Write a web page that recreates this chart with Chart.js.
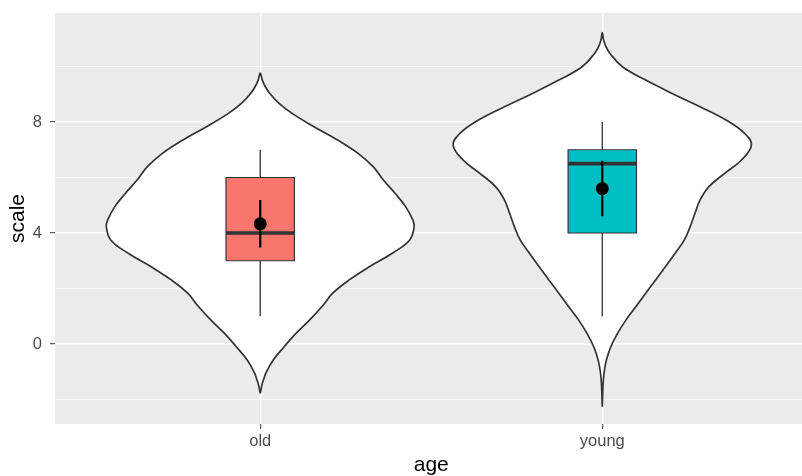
<!DOCTYPE html>
<html><head><meta charset="utf-8">
<script src="https://cdn.jsdelivr.net/npm/chart.js@4/dist/chart.umd.min.js"></script>
<style>
html,body{margin:0;padding:0;background:#fff;overflow:hidden;}
#wrap{position:relative;width:814px;height:476px;}
</style></head><body>
<div id="wrap"><canvas id="c"></canvas></div>
<script>
// ---- data ----
const categories = ['old', 'young'];
const q1 = [3, 4];
const medians = [4, 6.5];
const q3 = [6, 7];
const whiskerLow = [1, 1];
const whiskerHigh = [7, 8];
const means = [4.33, 5.6];
const meanLow = [3.48, 4.6];
const meanHigh = [5.19, 6.6];
const boxColors = ['#F8766D', '#00BFC4'];

// violin outlines: value (y) and half-width (in category units), top to bottom
const violinOldY = [9.76, 9.51, 9.27, 9.03, 8.67, 8.31, 7.83, 7.35, 6.87, 6.39, 5.91, 5.43, 4.95, 4.47, 4.23, 3.75, 3.27, 2.79, 2.31, 1.83, 1.34, 0.86, 0.39, -0.10, -0.58, -1.06, -1.24, -1.42, -1.78];
const violinOldHalf = [0, 0.006, 0.015, 0.028, 0.055, 0.093, 0.157, 0.226, 0.286, 0.33, 0.36, 0.394, 0.425, 0.446, 0.45, 0.437, 0.386, 0.32, 0.26, 0.212, 0.18, 0.144, 0.105, 0.07, 0.038, 0.016, 0.011, 0.006, 0];
const violinYoungY = [11.22, 10.95, 10.71, 10.48, 9.99, 9.51, 9.03, 8.55, 8.07, 7.59, 7.17, 6.63, 6.15, 5.67, 5.19, 4.71, 4.23, 3.75, 3.27, 2.79, 2.31, 1.83, 1.34, 0.86, 0.39, -0.10, -0.58, -1.06, -1.54, -2.26];
const violinYoungHalf = [0, 0.004, 0.011, 0.022, 0.059, 0.127, 0.204, 0.286, 0.362, 0.416, 0.436, 0.407, 0.358, 0.312, 0.286, 0.271, 0.257, 0.24, 0.213, 0.185, 0.156, 0.127, 0.098, 0.069, 0.045, 0.025, 0.012, 0.005, 0.002, 0];

const yTickValues = [-2, 0, 2, 4, 6, 8, 10];
const yTickLabels = ['', '0', '', '4', '', '8', ''];
const yMajor = [0, 4, 8];

// ---- build datasets ----
function violinPoints(center, ys, halves) {
  const pts = [];
  for (let i = ys.length - 1; i >= 0; i--) pts.push({x: center - halves[i], y: ys[i]});
  for (let i = 1; i < ys.length; i++) pts.push({x: center + halves[i], y: ys[i]});
  return pts;
}
const BOX_HALF = 0.1;
const ds = [];
const violins = [[violinOldY, violinOldHalf], [violinYoungY, violinYoungHalf]];
violins.forEach((v, i) => {
  ds.push({data: violinPoints(i + 1, v[0], v[1]), showLine: true, fill: 'shape',
    backgroundColor: '#ffffff', borderColor: '#333333', borderWidth: 1.7, tension: 0.4, pointRadius: 0});
});
categories.forEach((c, i) => {
  const x = i + 1;
  ds.push({data: [{x, y: q3[i]}, {x, y: whiskerHigh[i]}], showLine: true, borderColor: '#333333', borderWidth: 1.3, pointRadius: 0, fill: false});
  ds.push({data: [{x, y: q1[i]}, {x, y: whiskerLow[i]}], showLine: true, borderColor: '#333333', borderWidth: 1.3, pointRadius: 0, fill: false});
});
categories.forEach((c, i) => {
  const x = i + 1;
  ds.push({data: [{x: x - BOX_HALF, y: q1[i]}, {x: x - BOX_HALF, y: q3[i]}, {x: x + BOX_HALF, y: q3[i]}, {x: x + BOX_HALF, y: q1[i]}, {x: x - BOX_HALF, y: q1[i]}],
    showLine: true, fill: 'shape', backgroundColor: boxColors[i], borderColor: '#333333', borderWidth: 1.2, tension: 0, pointRadius: 0, borderJoinStyle: 'miter'});
});
categories.forEach((c, i) => {
  const x = i + 1;
  ds.push({data: [{x: x - BOX_HALF, y: medians[i]}, {x: x + BOX_HALF, y: medians[i]}], showLine: true, borderColor: '#333333', borderWidth: 3.6, pointRadius: 0, fill: false});
});
categories.forEach((c, i) => {
  const x = i + 1;
  ds.push({data: [{x, y: meanLow[i]}, {x, y: meanHigh[i]}], showLine: true, borderColor: '#000000', borderWidth: 2.2, pointRadius: 0, fill: false});
});
ds.push({data: categories.map((c, i) => ({x: i + 1, y: means[i]})), showLine: false, pointRadius: 6.5, pointBackgroundColor: '#000', pointBorderColor: '#000', pointBorderWidth: 0});
ds.forEach((d, i) => { d.order = ds.length - i; });

const panelBg = {
  id: 'panelBg',
  beforeDraw(chart) {
    const {ctx, chartArea: a} = chart;
    ctx.save();
    ctx.fillStyle = '#EBEBEB';
    ctx.fillRect(a.left, a.top, a.right - a.left, a.bottom - a.top);
    ctx.restore();
  }
};

const FONT = "'Liberation Sans', Arial, Helvetica, sans-serif";
new Chart(document.getElementById('c'), {
  type: 'scatter',
  data: {datasets: ds},
  options: {
    responsive: true, maintainAspectRatio: false, animation: false,
    layout: {padding: {top: 13, right: 0, left: 0, bottom: 0}},
    plugins: {legend: {display: false}, tooltip: {enabled: false}},
    scales: {
      x: {
        type: 'linear', min: 0.4, max: 2.6,
        afterBuildTicks: s => { s.ticks = categories.map((c, i) => ({value: i + 1})); },
        afterFit: s => { s.height = 52; s.paddingLeft = 0; s.paddingRight = 0; },
        border: {display: false},
        grid: {color: '#ffffff', lineWidth: 1.4, tickColor: '#333333', tickLength: 5, tickWidth: 1},
        ticks: {autoSkip: false, maxRotation: 0, padding: 3, color: '#4D4D4D',
          font: {family: FONT, size: 16.5},
          callback: v => categories[Math.round(v) - 1]},
        title: {display: true, text: 'age', color: '#000', font: {family: FONT, size: 21, lineHeight: 1.0}, padding: {top: 0, bottom: 0}}
      },
      y: {
        type: 'linear', min: -2.883, max: 11.928,
        afterBuildTicks: s => { s.ticks = yTickValues.map(v => ({value: v})); },
        afterFit: s => { s.width = 55; s.paddingTop = 0; s.paddingBottom = 0; },
        border: {display: false},
        grid: {color: '#ffffff',
          lineWidth: c => (c.tick && yMajor.includes(c.tick.value)) ? 1.4 : 0.7,
          tickColor: c => (c.tick && yMajor.includes(c.tick.value)) ? '#333333' : 'rgba(0,0,0,0)',
          tickLength: 5, tickWidth: 1},
        ticks: {autoSkip: false, padding: 8, color: '#4D4D4D', font: {family: FONT, size: 16.5},
          callback: (v, i) => yTickLabels[yTickValues.indexOf(v)]},
        title: {display: true, text: 'scale', color: '#000', font: {family: FONT, size: 21, lineHeight: 1.2}, padding: {top: 6, bottom: 0}}
      }
    }
  },
  plugins: [panelBg]
});
</script>
</body></html>
